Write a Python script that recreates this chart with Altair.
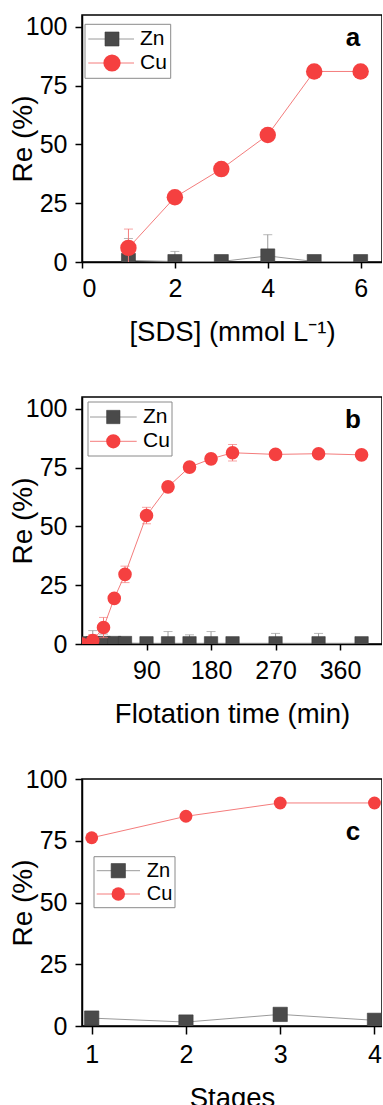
import altair as alt
import pandas as pd

FONT = "Liberation Sans"
SERIES = ["Zn", "Cu"]
Y_TICKS = [0, 25, 50, 75, 100]
Y_TITLE = "Re (%)"

# ---- panel a : [SDS]
a_x = [1, 2, 3, 4, 5, 6]
a_zn = [0.7, 0.2, 0.2, 2.6, 0.2, 0.2]
a_zn_err = [9.3, 4.3, 0.5, 9.0, 0.5, 0.5]
a_cu = [6.0, 27.5, 39.5, 54.0, 81.0, 81.0]
a_cu_err = [8.0, 1.0, 1.0, 1.0, 1.0, 1.0]
a_xticks = [0, 2, 4, 6]

# ---- panel b : flotation time
b_x = [0, 15, 30, 45, 60, 90, 120, 150, 180, 210, 270, 330, 390]
b_zn = [0.3, 0.3, 0.4, 0.4, 0.4, 0.3, 0.3, 0.3, 0.3, 0.3, 0.3, 0.3, 0.3]
b_zn_err = [0.0, 5.4, 3.8, 1.5, 2.3, 0.0, 5.0, 3.6, 5.0, 0.0, 4.2, 4.2, 0.0]
b_cu = [0.0, 1.5, 7.0, 19.4, 29.6, 54.6, 66.8, 75.2, 78.7, 81.3, 80.6, 80.9, 80.4]
b_cu_err = [0.0, 2.5, 4.3, 1.5, 3.5, 3.5, 2.0, 2.0, 2.0, 3.5, 1.5, 1.5, 1.5]
b_xticks = [90, 180, 270, 360]

# ---- panel c : stages
c_x = [1, 2, 3, 4]
c_zn = [3.2, 1.6, 4.7, 2.3]
c_zn_err = [0.0, 0.0, 0.0, 0.0]
c_cu = [76.2, 84.9, 90.3, 90.3]
c_cu_err = [0.0, 0.0, 0.0, 0.0]
c_xticks = [1, 2, 3, 4]

ZN_LINE = "#9a9a9a"
ZN_FILL = "#4a4a4a"
CU_LINE = "#f47c7c"
CU_FILL = "#f54040"

W = 300
H = 247


def panel(xs, zn, zn_err, cu, cu_err, xdom, xticks, ydom, xtitle, label,
          leg, lab_y, sq, ci, xtick_size):
    df = pd.DataFrame({"x": xs, "zn": zn, "cu": cu,
                       "zn_lo": [v - e for v, e in zip(zn, zn_err)],
                       "zn_hi": [v + e for v, e in zip(zn, zn_err)],
                       "cu_lo": [v - e for v, e in zip(cu, cu_err)],
                       "cu_hi": [v + e for v, e in zip(cu, cu_err)]})
    xs_ = alt.Scale(domain=xdom, nice=False, zero=False)
    ys_ = alt.Scale(domain=ydom, nice=False, zero=False)
    xax = alt.Axis(values=xticks, title=xtitle, tickSize=xtick_size, format="d")
    yax = alt.Axis(values=Y_TICKS, title=Y_TITLE, titleX=-45)
    X = alt.X("x:Q", scale=xs_, axis=xax)

    def Y(f):
        return alt.Y(f + ":Q", scale=ys_, axis=yax)

    base = alt.Chart(df)
    layers = [
        base.mark_line(color=ZN_LINE, strokeWidth=1, clip=True).encode(x=X, y=Y("zn")),
        base.mark_rule(color=ZN_LINE, strokeWidth=1, clip=True).encode(x=X, y=Y("zn_lo"), y2="zn_hi:Q"),
        base.mark_tick(color=ZN_LINE, orient="horizontal", size=9, thickness=1, clip=True).encode(x=X, y=Y("zn_hi")),
        base.mark_square(size=sq, color=ZN_FILL, opacity=1, stroke="#3a3a3a", strokeWidth=0.6, clip=True).encode(x=X, y=Y("zn")),
        base.mark_line(color=CU_LINE, strokeWidth=1, clip=True).encode(x=X, y=Y("cu")),
        base.mark_rule(color=CU_LINE, strokeWidth=1, clip=True).encode(x=X, y=Y("cu_lo"), y2="cu_hi:Q"),
        base.mark_tick(color=CU_LINE, orient="horizontal", size=9, thickness=1, clip=True).encode(x=X, y=Y("cu_hi")),
        base.mark_tick(color=CU_LINE, orient="horizontal", size=9, thickness=1, clip=True).encode(x=X, y=Y("cu_lo")),
        base.mark_circle(size=ci, color=CU_FILL, opacity=1, clip=True).encode(x=X, y=Y("cu")),
    ]
    # legend (decoration)
    bx0, bx1, by0, by1, r1, r2, lx0, lx1, mx, tx, fs = leg
    one = alt.Chart(pd.DataFrame({"k": [0]}))
    layers += [
        one.mark_rect(fill="white", stroke="#8a8a8a", strokeWidth=1).encode(
            x=alt.value(bx0), x2=alt.value(bx1), y=alt.value(by0), y2=alt.value(by1)),
        one.mark_rule(color=ZN_LINE, strokeWidth=1).encode(x=alt.value(lx0), x2=alt.value(lx1), y=alt.value(r1)),
        one.mark_rule(color=CU_LINE, strokeWidth=1).encode(x=alt.value(lx0), x2=alt.value(lx1), y=alt.value(r2)),
        one.mark_square(size=sq, color=ZN_FILL, opacity=1, stroke="#3a3a3a", strokeWidth=0.6).encode(
            x=alt.value(mx), y=alt.value(r1)),
        one.mark_circle(size=ci * 1.1, color=CU_FILL, opacity=1).encode(x=alt.value(mx), y=alt.value(r2)),
        one.mark_text(align="left", baseline="middle", fontSize=fs, font=FONT, color="black").encode(
            x=alt.value(tx), y=alt.value(r1), text=alt.value(SERIES[0])),
        one.mark_text(align="left", baseline="middle", fontSize=fs, font=FONT, color="black").encode(
            x=alt.value(tx), y=alt.value(r2), text=alt.value(SERIES[1])),
        one.mark_text(align="center", baseline="middle", fontSize=26, fontWeight="bold", font=FONT,
                      color="black").encode(x=alt.value(271), y=alt.value(lab_y), text=alt.value(label)),
    ]
    return alt.layer(*layers).properties(width=W, height=H)


pa = panel(a_x, a_zn, a_zn_err, a_cu, a_cu_err, [0, 6.46], a_xticks, [0, 105],
           "[SDS] (mmol L\u207b\u00b9)", "a",
           (3, 88.7, 9.3, 63.3, 24, 48, 6.3, 52, 30, 58, 21), 23, 196, 270, 6)
pb = panel(b_x, b_zn, b_zn_err, b_cu, b_cu_err, [0, 418.5], b_xticks, [0, 105],
           "Flotation time (min)", "b",
           (6, 90, 5, 59, 20, 44.3, 8, 54.7, 31.3, 61, 21), 23.3, 178, 185, 6)
pc = panel(c_x, c_zn, c_zn_err, c_cu, c_cu_err, [0.897, 4.08], c_xticks, [0, 100],
           "Stages", "c",
           (12, 93, 77.7, 128.7, 91.7, 115, 14.7, 58, 36.3, 64.7, 20), 52.7, 205, 165, 8)

chart = alt.vconcat(pa, pb, pc, spacing=135, bounds="flush").properties(
    padding={"left": 8, "top": 14, "right": -1, "bottom": 0}
).configure_view(stroke="black", strokeWidth=1.5).configure_axis(
    grid=False, domainColor="black", domainWidth=1.5, tickColor="black", tickWidth=1.5,
    labelFont=FONT, labelFontSize=25, labelColor="black", labelPadding=8,
    titleFont=FONT, titleFontSize=27.5, titleFontWeight="normal", titleColor="black",
).configure_axisX(titlePadding=17).configure_axisY(tickSize=7, titleFontSize=28)

chart.save("out.html", embed_options={"renderer": "svg", "actions": False})
